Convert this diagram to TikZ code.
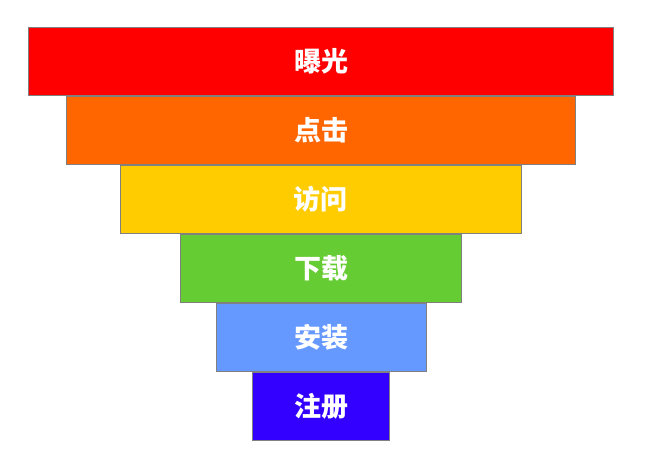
\documentclass[tikz,border=0pt]{standalone}
\usepackage{fontspec}
\newfontfamily\cjk{Noto Sans CJK SC}
\definecolor{cA}{HTML}{FF0000}
\definecolor{cB}{HTML}{FF6600}
\definecolor{cC}{HTML}{FFCC00}
\definecolor{cD}{HTML}{66CC33}
\definecolor{cE}{HTML}{6699FF}
\definecolor{cF}{HTML}{3300FF}
\definecolor{edge}{HTML}{808080}
\tikzset{
  level/.style={draw=edge, line width=1pt, inner sep=0pt, outer sep=0pt,
    font=\cjk\bfseries\fontsize{27}{27}\selectfont, text=white, minimum height=68pt}
}
\begin{document}
\begin{tikzpicture}[x=1pt,y=-1pt]
\useasboundingbox (0,0) rectangle (657,465);
\fill[white] (0,0) rectangle (657,465);
\node[level, fill=cA, minimum width=585pt] (n1) at (321,61.5) {曝光};
\node[level, fill=cB, minimum width=509pt] (n2) at (321,130.5) {点击};
\node[level, fill=cC, minimum width=400.5pt] (n3) at (320.75,199.5) {访问};
\node[level, fill=cD, minimum width=281pt] (n4) at (321,268.5) {下载};
\node[level, fill=cE, minimum width=210pt] (n5) at (321.5,337.5) {安装};
\node[level, fill=cF, minimum width=137pt] (n6) at (321,406.5) {注册};
\end{tikzpicture}
\end{document}
